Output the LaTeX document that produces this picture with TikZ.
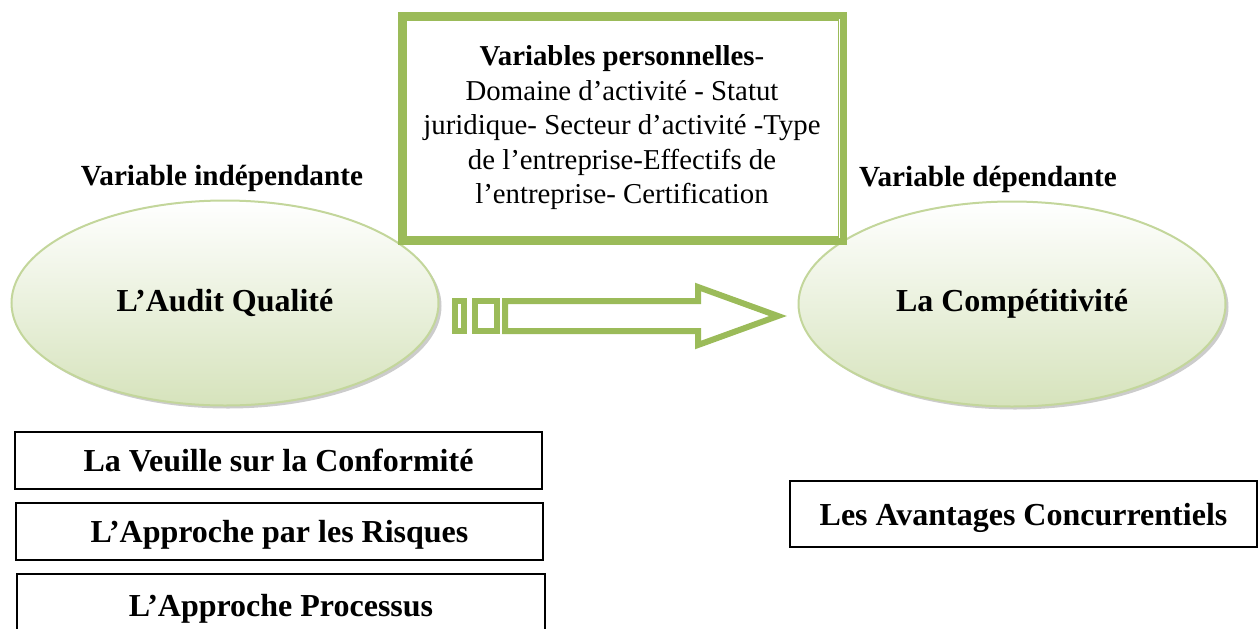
\documentclass[tikz,border=0pt]{standalone}
\usepackage{fontspec}
\setmainfont{Liberation Serif}
\usepackage{xcolor}
\definecolor{FrameGreen}{HTML}{9BBB59}
\definecolor{OvalEdge}{HTML}{C3D69B}
\definecolor{OvalFill}{HTML}{D6E3BC}
\usepackage{tikz}
\usetikzlibrary{shapes.geometric, shadows}

\begin{document}
\begin{tikzpicture}[x=0.5pt, y=-0.5pt,
    titlefont/.style={font=\fontsize{16}{19}\selectfont\bfseries},
    varlabel/.style={font=\fontsize{14.6}{17}\selectfont\bfseries, inner sep=0pt},
    oval/.style={ellipse, draw=OvalEdge, line width=1pt, top color=white,
      bottom color=OvalFill, minimum width=213.5pt, minimum height=102.5pt,
      inner sep=0pt, titlefont,
      drop shadow={shadow xshift=1.5pt, shadow yshift=-1.5pt, fill=black!40}},
    framebox/.style={draw=FrameGreen, line width=3.5pt, minimum width=221pt,
      minimum height=113pt, align=center, inner sep=0pt,
      font=\fontsize{14.4}{17.25}\selectfont},
    dimbox/.style={draw, line width=1pt, inner sep=0pt, text depth=0pt, titlefont},
    blockarrow/.style={draw=FrameGreen, line width=3pt, miter limit=10}]

  % page size of the reference (1259 x 628 px)
  \useasboundingbox (0,0) rectangle (1259,628);
  \clip (0,0) rectangle (1259,628);

  % Variables
  \node[varlabel] (indep) at (222,178) {Variable indépendante};
  \node[varlabel] (dep)   at (988,179) {Variable dépendante};

  % Ellipses
  \node[oval] (audit)  at (225,303)  {L’Audit Qualité};
  \node[oval] (compet) at (1012,304) {La Compétitivité};

  % Variables personnelles (double frame)
  \node[framebox] (perso) at (622,128)
    {\textbf{Variables personnelles}-\\
     Domaine d’activité - Statut\\
     juridique- Secteur d’activité -Type\\
     de l’entreprise-Effectifs de\\
     l’entreprise- Certification};
  \draw[FrameGreen, line width=0.9pt]
    ([shift={(8.5,8.5)}]perso.north west) rectangle ([shift={(-8,-7.5)}]perso.south east);

  % Striped block arrow
  \draw[blockarrow] (455,301) rectangle (464,331);
  \draw[blockarrow] (475,301) rectangle (497,331);
  \draw[blockarrow] (505,301) -- (698,301) -- (698,287) -- (778,316)
    -- (698,345) -- (698,331) -- (505,331) -- cycle;

  % Dimensions of the audit
  \node[dimbox, minimum width=263.5pt, minimum height=28.5pt] (veille)
    at (278.5,460.5) {La Veuille sur la Conformité};
  \node[dimbox, minimum width=263.5pt, minimum height=28.5pt] (risques)
    at (279.5,531.5) {L’Approche par les Risques};
  \node[dimbox, minimum width=264pt, minimum height=31pt] (processus)
    at (281,605) {L’Approche Processus};

  % Dimension of competitiveness
  \node[dimbox, minimum width=233.5pt, minimum height=33pt] (avantages)
    at (1023.5,514) {Les Avantages Concurrentiels};
\end{tikzpicture}
\end{document}
